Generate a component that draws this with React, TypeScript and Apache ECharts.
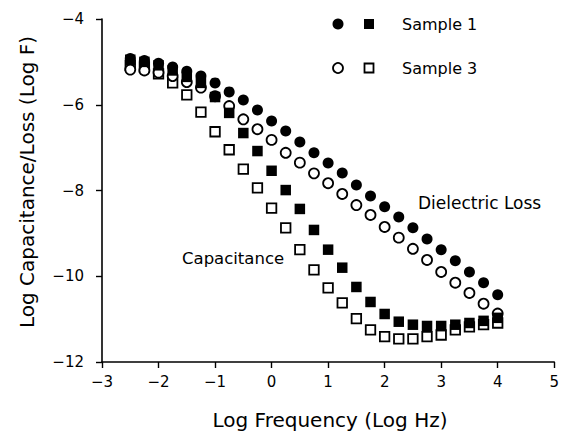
import React, { useEffect, useRef } from "react";
import * as echarts from "echarts";

// Log frequency (Log Hz) of every measurement
const logFreq = [
  -2.5, -2.25, -2.0, -1.75, -1.5, -1.25, -1.0, -0.75, -0.5, -0.25, 0.0, 0.25, 0.5, 0.75,
  1.0, 1.25, 1.5, 1.75, 2.0, 2.25, 2.5, 2.75, 3.0, 3.25, 3.5, 3.75, 4.0,
];

// Sample 1 – dielectric loss (filled circles)
const lossSample1 = [
  -4.92, -4.97, -5.03, -5.12, -5.22, -5.33, -5.49, -5.7, -5.89, -6.12, -6.38, -6.61, -6.87, -7.12,
  -7.36, -7.59, -7.87, -8.13, -8.38, -8.62, -8.87, -9.13, -9.38, -9.64, -9.9, -10.15, -10.43,
];
// Sample 3 – dielectric loss (open circles)
const lossSample3 = [
  -5.18, -5.2, -5.25, -5.33, -5.47, -5.6, -5.8, -6.03, -6.34, -6.57, -6.82, -7.12, -7.35, -7.6,
  -7.83, -8.08, -8.34, -8.57, -8.85, -9.1, -9.36, -9.62, -9.9, -10.15, -10.39, -10.64, -10.87,
];
// Sample 1 – capacitance (filled squares)
const capSample1 = [
  -4.95, -5.0, -5.08, -5.2, -5.35, -5.49, -5.82, -6.19, -6.66, -7.08, -7.54, -7.99, -8.43, -8.92,
  -9.38, -9.8, -10.25, -10.6, -10.88, -11.06, -11.13, -11.16, -11.16, -11.13, -11.09, -11.04, -10.97,
];
// Sample 3 – capacitance (open squares)
const capSample3 = [
  -5.08, -5.12, -5.28, -5.49, -5.77, -6.17, -6.63, -7.05, -7.5, -7.94, -8.41, -8.87, -9.38, -9.85,
  -10.27, -10.62, -10.99, -11.25, -11.41, -11.46, -11.46, -11.41, -11.37, -11.25, -11.18, -11.13, -11.09,
];

const xTicks = [-3, -2, -1, 0, 1, 2, 3, 4, 5];
const yTicks = [-12, -10, -8, -6, -4];

const xTitle = "Log Frequency (Log Hz)";
const yTitle = "Log Capacitance/Loss (Log F)";
const legendLabels = ["Sample 1", "Sample 3"];
const annotations = ["Dielectric Loss", "Capacitance"];

const FONT = "DejaVu Sans";

const fmt = (v: number) => (v < 0 ? "\u2212" + Math.abs(v) : String(v));
const pairs = (ys: number[]) => logFreq.map((x, i) => [x, ys[i]]);

export default function App() {
  const ref = useRef<HTMLDivElement>(null);

  useEffect(() => {
    if (!ref.current) return;
    const chart = echarts.init(ref.current, undefined, { renderer: "svg" });

    const openStyle = { color: "#fff", borderColor: "#000", borderWidth: 1.8, opacity: 1 };
    const filledStyle = { color: "#000", borderColor: "#000", borderWidth: 0, opacity: 1 };

    const axisCommon = {
      axisLine: { show: true, onZero: false, lineStyle: { color: "#000", width: 1.6 } },
      axisTick: { show: true, inside: false, length: 6, lineStyle: { color: "#000", width: 1.4 } },
      splitLine: { show: false },
      axisLabel: {
        color: "#000",
        fontFamily: FONT,
        fontSize: 15,
        formatter: (v: number) => fmt(v),
      },
    };

    chart.setOption({
      animation: false,
      backgroundColor: "#fff",
      grid: { left: 102, top: 19, width: 455, height: 343, containLabel: false },
      xAxis: {
        type: "value",
        min: xTicks[0],
        max: xTicks[xTicks.length - 1],
        interval: 1,
        ...axisCommon,
        axisLabel: { ...axisCommon.axisLabel, margin: 12 },
      },
      yAxis: {
        type: "value",
        min: yTicks[0],
        max: yTicks[yTicks.length - 1],
        interval: 2,
        ...axisCommon,
        axisLabel: { ...axisCommon.axisLabel, margin: 18 },
      },
      series: [
        {
          name: "Sample 3 capacitance",
          type: "scatter",
          symbol: "rect",
          symbolSize: 9.5,
          itemStyle: openStyle,
          data: pairs(capSample3),
          z: 1,
        },
        {
          name: "Sample 3 loss",
          type: "scatter",
          symbol: "circle",
          symbolSize: 10,
          itemStyle: openStyle,
          data: pairs(lossSample3),
          z: 2,
        },
        {
          name: "Sample 1 capacitance",
          type: "scatter",
          symbol: "rect",
          symbolSize: 10.5,
          itemStyle: filledStyle,
          data: pairs(capSample1),
          z: 3,
        },
        {
          name: "Sample 1 loss",
          type: "scatter",
          symbol: "circle",
          symbolSize: 11,
          itemStyle: filledStyle,
          data: pairs(lossSample1),
          z: 4,
        },
      ],
      graphic: [
        // axis titles
        {
          type: "text",
          x: 330,
          y: 420,
          style: {
            text: xTitle,
            font: `20px "${FONT}"`,
            fill: "#000",
            align: "center",
            verticalAlign: "middle",
          },
        },
        {
          type: "text",
          x: 27,
          y: 182,
          rotation: Math.PI / 2,
          style: {
            text: yTitle,
            font: `20px "${FONT}"`,
            fill: "#000",
            align: "center",
            verticalAlign: "middle",
          },
        },
        // legend row 1: Sample 1 (filled)
        { type: "circle", shape: { cx: 338, cy: 24, r: 5.5 }, style: { fill: "#000" } },
        { type: "rect", shape: { x: 364, y: 19, width: 10, height: 10 }, style: { fill: "#000" } },
        {
          type: "text",
          x: 402,
          y: 24,
          style: {
            text: legendLabels[0],
            font: `16px "${FONT}"`,
            fill: "#000",
            align: "left",
            verticalAlign: "middle",
          },
        },
        // legend row 2: Sample 3 (open)
        {
          type: "circle",
          shape: { cx: 338, cy: 68, r: 5 },
          style: { fill: "#fff", stroke: "#000", lineWidth: 1.8 },
        },
        {
          type: "rect",
          shape: { x: 364.5, y: 63.5, width: 9, height: 9 },
          style: { fill: "#fff", stroke: "#000", lineWidth: 1.8 },
        },
        {
          type: "text",
          x: 402,
          y: 68,
          style: {
            text: legendLabels[1],
            font: `16px "${FONT}"`,
            fill: "#000",
            align: "left",
            verticalAlign: "middle",
          },
        },
        // curve annotations
        {
          type: "text",
          x: 418,
          y: 203,
          style: {
            text: annotations[0],
            font: `17px "${FONT}"`,
            fill: "#000",
            align: "left",
            verticalAlign: "middle",
          },
        },
        {
          type: "text",
          x: 182,
          y: 258,
          style: {
            text: annotations[1],
            font: `16.5px "${FONT}"`,
            fill: "#000",
            align: "left",
            verticalAlign: "middle",
          },
        },
      ],
    });

    return () => chart.dispose();
  }, []);

  return (
    <div
      ref={ref}
      style={{ width: 562, height: 431, position: "absolute", left: 0, top: 0, background: "#fff" }}
    />
  );
}
